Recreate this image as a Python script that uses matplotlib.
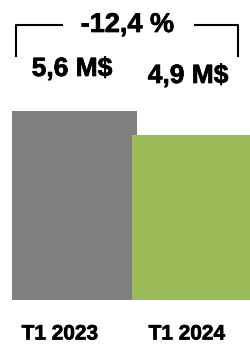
import matplotlib
matplotlib.use("Agg")
import matplotlib.pyplot as plt
import matplotlib.patheffects as pe
from matplotlib.lines import Line2D

# data
categories = ["T1 2023", "T1 2024"]
values = [5.6, 4.9]
value_labels = ["5,6 M$", "4,9 M$"]
change_label = "-12,4 %"
colors = ["#7F7F7F", "#9BBB59"]

W, H = 251, 345
fig = plt.figure(figsize=(W / 100, H / 100), dpi=100)
plt.rcParams['font.family'] = ['Liberation Sans', 'DejaVu Sans']

# axes: baseline at 300 px from top, 33.75 px per unit
ax = fig.add_axes([0, 45 / H, 1, 300 / H])
ax.set_xlim(-74.5 / 120, (W - 74.5) / 120)
ax.set_ylim(0, 300 / 33.75)
ax.axis("off")

for i, (v, c) in enumerate(zip(values, colors)):
    ax.bar(i, v, width=125 / 120, color=c, zorder=2 + i)


def fx(px):
    return px / W


def fy(py):
    return 1 - py / H


heavy = [pe.withStroke(linewidth=0.5, foreground="black")]
txt = dict(va="baseline", ha="center", fontweight="bold", path_effects=heavy)

# value labels
fig.text(fx(72), fy(76), value_labels[0], fontsize=19, **txt)
fig.text(fx(188), fy(83), value_labels[1], fontsize=19, **txt)

# change label with bracket
fig.text(fx(127.5), fy(32), change_label, fontsize=19.5, **txt)
lw = 1.5
fig.add_artist(Line2D([fx(16), fx(16), fx(62)], [fy(56), fy(25), fy(25)],
                      color="black", lw=lw))
fig.add_artist(Line2D([fx(195), fx(238), fx(238)], [fy(25), fy(25), fy(56)],
                      color="black", lw=lw))

# category labels
fig.text(fx(60), fy(339.5), categories[0], fontsize=15, **txt)
fig.text(fx(187), fy(339.5), categories[1], fontsize=15, **txt)

fig.savefig("out.png", dpi=100)
